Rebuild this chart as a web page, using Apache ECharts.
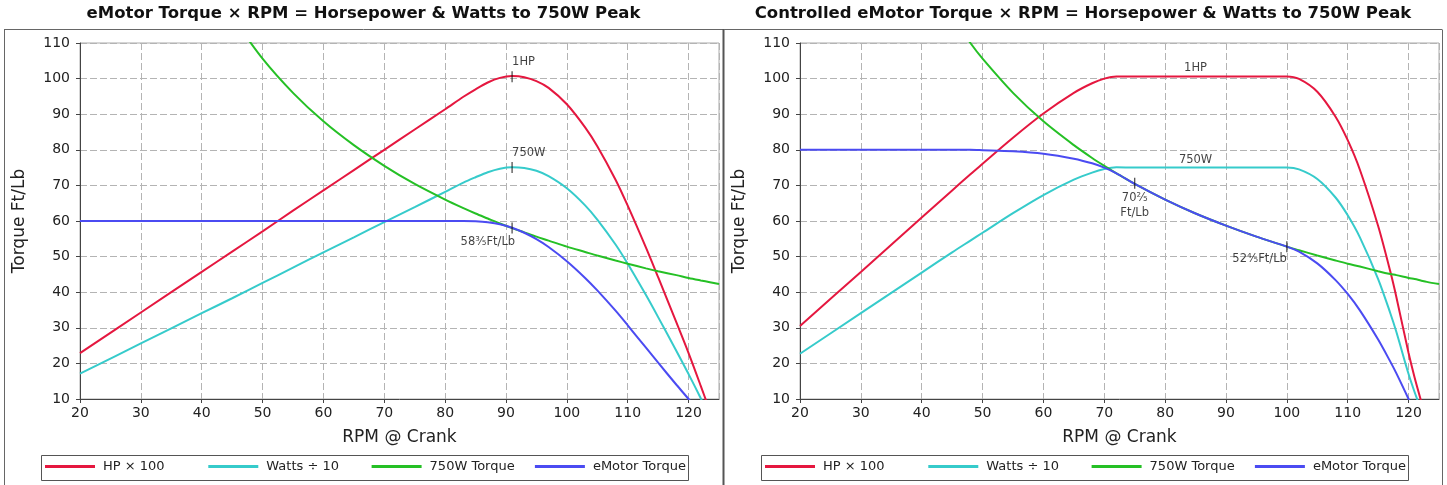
<!DOCTYPE html>
<html>
<head>
<meta charset="utf-8" />
<title>eMotor Torque x RPM</title>
<script src="https://cdn.jsdelivr.net/npm/echarts@6/dist/echarts.min.js"></script>
<style>html,body{margin:0;padding:0;background:#fff;}</style>
</head>
<body>
<div id="main" style="width:1447px;height:485px;"></div>
<script>
// left panel: free running eMotor
var rpmL      = [20, 30, 40, 45, 50, 55, 60, 65, 70, 75, 80, 83, 85, 87, 89, 91, 93, 95, 97, 100, 103, 105, 108, 110, 113, 115, 118, 120, 122, 123.5, 125];
var hpL       = [22.9, 34.3, 45.7, 51.4, 57.1, 62.9, 68.6, 74.3, 80.0, 85.7, 91.4, 94.9, 97.0, 98.9, 100.2, 100.7, 100.4, 99.3, 97.4, 92.8, 86.3, 81.0, 71.6, 64.3, 52.5, 44.2, 31.5, 22.9, 13.7, 6.6, null];
var wattsL    = [17.1, 25.6, 34.1, 38.3, 42.6, 46.9, 51.2, 55.4, 59.7, 63.9, 68.2, 70.8, 72.3, 73.7, 74.7, 75.1, 74.9, 74.1, 72.6, 69.2, 64.4, 60.4, 53.4, 48.0, 39.2, 33.0, 23.5, 17.0, 10.2, 4.9, null];
var torque750L = [null, null, null, 117.4, 105.6, 96.0, 88.0, 81.3, 75.5, 70.4, 66.0, 63.6, 62.1, 60.7, 59.3, 58.0, 56.8, 55.6, 54.5, 52.8, 51.3, 50.3, 48.9, 48.0, 46.7, 45.9, 44.8, 44.0, 43.3, 42.8, 42.3];
var motorL    = [60, 60, 60, 60, 60, 60, 60, 60, 60, 60, 60, 60, 59.92, 59.65, 59.1, 58.1, 56.7, 54.9, 52.7, 48.7, 44.0, 40.5, 34.8, 30.7, 24.4, 20.2, 14.0, 10.0, 5.9, 2.8, null];

// right panel: controlled eMotor
var rpmR      = [20, 30, 40, 45, 48, 50, 55, 60, 65, 68, 70, 72, 75, 80, 85, 90, 95, 100, 102, 105, 108, 110, 112, 115, 117, 118, 120, 121, 122, 123, 125];
var hpR       = [30.5, 45.7, 61.0, 68.6, 73.1, 76.1, 83.4, 90.2, 96.0, 98.7, 100.0, 100.6, 100.6, 100.6, 100.6, 100.6, 100.6, 100.6, 99.9, 96.3, 89.3, 82.7, 74.4, 58.6, 45.8, 38.6, 22.9, 16.0, 9.8, 3.8, null];
var wattsR    = [22.7, 34.1, 45.5, 51.2, 54.5, 56.7, 62.2, 67.3, 71.6, 73.6, 74.6, 75.1, 75.0, 75.0, 75.0, 75.0, 75.0, 75.0, 74.5, 71.8, 66.6, 61.6, 55.4, 43.7, 34.1, 28.8, 17.0, 11.9, 7.3, null, null];
var torque750R = [null, null, null, 117.4, 110.0, 105.6, 96.0, 88.0, 81.3, 77.7, 75.5, 73.4, 70.4, 66.0, 62.1, 58.7, 55.6, 52.8, 51.8, 50.3, 48.9, 48.0, 47.2, 45.9, 45.1, 44.8, 44.0, 43.7, 43.3, 42.9, 42.3];
var motorR    = [80, 80, 80, 80, 80, 79.9, 79.6, 78.9, 77.5, 76.2, 75.0, 73.4, 70.4, 66.0, 62.1, 58.7, 55.6, 52.8, 51.4, 48.1, 43.4, 39.5, 34.9, 26.7, 20.5, 17.2, 10.0, 6.2, 2.2, null, null];

// annotations [rpm, value, text]
var notesL = [[91, 100.5, '1HP'], [91, 75.0, '750W'], [91, 58.0, '58\u2157Ft/Lb']];
var notesR = [[85, 103.0, '1HP'], [85, 77.1, '750W'], [75, 70.6, '70\u2156\nFt/Lb'], [100, 52.8, '52\u2158Ft/Lb']];

var names = ['HP \u00d7 100', 'Watts \u00f7 10', '750W Torque', 'eMotor Torque'];
var colors = ['#e5173f', '#36cbcb', '#25c025', '#4b4bf2'];
var titles = ['eMotor Torque \u00d7 RPM = Horsepower & Watts to 750W Peak',
              'Controlled eMotor Torque \u00d7 RPM = Horsepower & Watts to 750W Peak'];

var FONT = '"DejaVu Sans", sans-serif';

function pairs(xs, ys) {
  return xs.map(function (x, i) { return [x, ys[i]]; });
}

var myChart = echarts.init(document.getElementById('main'));

var grids = [
  { left: 80, top: 43, width: 639, height: 356, show: true, borderColor: '#aaaaaa', borderWidth: 1 },
  { left: 800, top: 43, width: 639, height: 356, show: true, borderColor: '#aaaaaa', borderWidth: 1 }
];

function xAx(i) {
  return {
    type: 'value', gridIndex: i, min: 20, max: 125, interval: 10,
    name: 'RPM @ Crank', nameLocation: 'middle', nameGap: 30,
    nameTextStyle: { fontFamily: FONT, fontSize: 17, color: '#222' },
    axisLine: { show: true, lineStyle: { color: '#444', width: 1 } },
    axisTick: { show: true, length: 4, lineStyle: { color: '#444' } },
    axisLabel: { fontFamily: FONT, fontSize: 14, color: '#222', margin: 7, showMaxLabel: false },
    splitLine: { show: true, lineStyle: { color: '#b4b4b4', type: [7, 3], width: 1 } }
  };
}
function yAx(i) {
  return {
    type: 'value', gridIndex: i, min: 10, max: 110, interval: 10,
    name: 'Torque Ft/Lb', nameLocation: 'middle', nameGap: 52,
    nameTextStyle: { fontFamily: FONT, fontSize: 17, color: '#222' },
    axisLine: { show: true, lineStyle: { color: '#444', width: 1 } },
    axisTick: { show: true, length: 4, lineStyle: { color: '#444' } },
    axisLabel: { fontFamily: FONT, fontSize: 14, color: '#222', margin: 10 },
    splitLine: { show: true, lineStyle: { color: '#b4b4b4', type: [7, 3], width: 1 } }
  };
}

function lineSeries(i, name, color, xs, ys) {
  return {
    name: name, type: 'line', xAxisIndex: i, yAxisIndex: i,
    data: pairs(xs, ys), showSymbol: false, smooth: 0.3,
    lineStyle: { color: color, width: 2 }, itemStyle: { color: color },
    clip: true, silent: true
  };
}

// label placement for each note
var noteStyleL = [
  { position: 'top', align: 'left', distance: 3 },
  { position: 'top', align: 'left', distance: 3 },
  { position: 'bottom', align: 'right', distance: 2, offset: [3, 0] }
];
var noteStyleR = [
  { position: 'inside', align: 'center', tick: false },
  { position: 'inside', align: 'center', tick: false },
  { position: 'bottom', align: 'center', distance: 2, lineHeight: 15 },
  { position: 'bottom', align: 'right', distance: 0 }
];

function noteSeries(i, notes, styles) {
  return {
    type: 'scatter', xAxisIndex: i, yAxisIndex: i, silent: true, z: 5,
    symbol: 'rect',
    data: notes.map(function (n, k) {
      var s = styles[k];
      return {
        value: [n[0], n[1]],
        symbolSize: s.tick === false ? 0 : [1.2, 11],
        label: {
          show: true, formatter: n[2], position: s.position, align: s.align,
          distance: s.distance || 0, offset: s.offset || [0, 0],
          fontFamily: FONT, fontSize: 11.5, color: '#111', lineHeight: s.lineHeight || 13
        }
      };
    }),
    itemStyle: { color: '#111' }
  };
}

var series = [];
[[rpmL, hpL, wattsL, torque750L, motorL], [rpmR, hpR, wattsR, torque750R, motorR]].forEach(function (p, i) {
  series.push(lineSeries(i, names[0], colors[0], p[0], p[1]));
  series.push(lineSeries(i, names[1], colors[1], p[0], p[2]));
  series.push(lineSeries(i, names[2], colors[2], p[0], p[3]));
  series.push(lineSeries(i, names[3], colors[3], p[0], p[4]));
});
series.push(noteSeries(0, notesL, noteStyleL));
series.push(noteSeries(1, notesR, noteStyleR));

// one legend per entry so spacing matches the boxed legends
var legends = [];
[0, 720].forEach(function (dx) {
  names.forEach(function (nm, k) {
    legends.push({
      left: 45 + dx + k * 163.3, top: 460, padding: 0,
      icon: 'rect', itemWidth: 50, itemHeight: 3, selectedMode: false,
      data: [nm],
      textStyle: { fontFamily: FONT, fontSize: 13, color: '#222', padding: [0, 0, 0, 3] }
    });
  });
});

var graphics = [
  { type: 'line', shape: { x1: 4.5, y1: 29.5, x2: 4.5, y2: 485 }, style: { stroke: '#666', lineWidth: 1 } },
  { type: 'line', shape: { x1: 4, y1: 29.5, x2: 723, y2: 29.5 }, style: { stroke: '#666', lineWidth: 1 } },
  { type: 'line', shape: { x1: 723.5, y1: 29, x2: 723.5, y2: 485 }, style: { stroke: '#555', lineWidth: 2 } },
  { type: 'line', shape: { x1: 724, y1: 29.5, x2: 1442, y2: 29.5 }, style: { stroke: '#666', lineWidth: 1 } },
  { type: 'line', shape: { x1: 1442.5, y1: 29.5, x2: 1442.5, y2: 485 }, style: { stroke: '#666', lineWidth: 1 } },
  { type: 'rect', shape: { x: 41.5, y: 455.5, width: 647, height: 25 }, style: { fill: 'none', stroke: '#555', lineWidth: 1 } },
  { type: 'rect', shape: { x: 761.5, y: 455.5, width: 647, height: 25 }, style: { fill: 'none', stroke: '#555', lineWidth: 1 } },
  { type: 'text', style: { x: 363.5, y: 14, text: titles[0], textAlign: 'center', align: 'center', textVerticalAlign: 'middle', verticalAlign: 'middle', font: 'bold 16.5px "DejaVu Sans", sans-serif', fill: '#111' } },
  { type: 'text', style: { x: 1083, y: 14, text: titles[1], textAlign: 'center', align: 'center', textVerticalAlign: 'middle', verticalAlign: 'middle', font: 'bold 16.5px "DejaVu Sans", sans-serif', fill: '#111' } }
];

option = {
  animation: false,
  backgroundColor: '#ffffff',
  grid: grids,
  xAxis: [xAx(0), xAx(1)],
  yAxis: [yAx(0), yAx(1)],
  legend: legends,
  graphic: graphics,
  series: series
};
myChart.setOption(option);
</script>
</body>
</html>
